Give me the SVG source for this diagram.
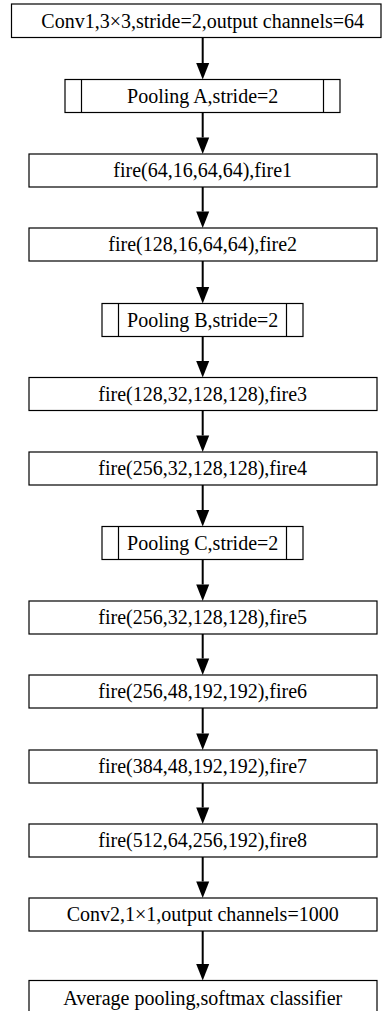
<svg xmlns="http://www.w3.org/2000/svg" width="384" height="1011" viewBox="0 0 384 1011">
<style>
.b{fill:#fff;stroke:#000;stroke-width:1.2}
.d{stroke:#000;stroke-width:1.2}
.t{font-family:"Liberation Serif","Times New Roman",serif;font-size:20px;fill:#000;text-anchor:middle}
.c{stroke:#000;stroke-width:2;fill:none;marker-end:url(#ah)}
</style>
<defs>
<marker id="ah" markerUnits="userSpaceOnUse" markerWidth="16.5" markerHeight="14" refX="0" refY="0" orient="auto" viewBox="0 -7 16.5 14" overflow="visible">
<path d="M0,-6.5 L16.5,0 L0,6.5 Z" fill="#000"/>
</marker>
</defs>
<rect width="384" height="1011" fill="#fff"/>
<g id="connectors">
<line class="c" x1="202.7" y1="37.5" x2="202.7" y2="63"/>
<line class="c" x1="202.7" y1="112.5" x2="202.7" y2="137.5"/>
<line class="c" x1="202.7" y1="187" x2="202.7" y2="211.5"/>
<line class="c" x1="202.7" y1="261" x2="202.7" y2="287"/>
<line class="c" x1="202.7" y1="336.5" x2="202.7" y2="361"/>
<line class="c" x1="202.7" y1="410.5" x2="202.7" y2="435.5"/>
<line class="c" x1="202.7" y1="485" x2="202.7" y2="510"/>
<line class="c" x1="202.7" y1="559.5" x2="202.7" y2="584.5"/>
<line class="c" x1="202.7" y1="634" x2="202.7" y2="658.5"/>
<line class="c" x1="202.7" y1="708" x2="202.7" y2="733.5"/>
<line class="c" x1="202.7" y1="783" x2="202.7" y2="807.5"/>
<line class="c" x1="202.7" y1="857" x2="202.7" y2="881.5"/>
<line class="c" x1="202.7" y1="931" x2="202.7" y2="964"/>
</g>
<g id="conv1"><rect class="b" x="11.5" y="4" width="369.5" height="33.5"/><text class="t" x="202.7" y="28">Conv1,3×3,stride=2,output channels=64</text></g>
<g id="poolA"><rect class="b" x="65" y="79.5" width="275" height="33"/><line class="d" x1="81.5" y1="79.5" x2="81.5" y2="112.5"/><line class="d" x1="323.5" y1="79.5" x2="323.5" y2="112.5"/><text class="t" x="202.7" y="103">Pooling A,stride=2</text></g>
<g id="fire1"><rect class="b" x="29" y="154" width="348" height="33"/><text class="t" x="202.7" y="177">fire(64,16,64,64),fire1</text></g>
<g id="fire2"><rect class="b" x="29" y="228" width="348" height="33"/><text class="t" x="202.7" y="251">fire(128,16,64,64),fire2</text></g>
<g id="poolB"><rect class="b" x="102" y="303.5" width="201" height="33"/><line class="d" x1="118.5" y1="303.5" x2="118.5" y2="336.5"/><line class="d" x1="286.5" y1="303.5" x2="286.5" y2="336.5"/><text class="t" x="202.7" y="327">Pooling B,stride=2</text></g>
<g id="fire3"><rect class="b" x="29" y="377.5" width="348" height="33"/><text class="t" x="202.7" y="401">fire(128,32,128,128),fire3</text></g>
<g id="fire4"><rect class="b" x="29" y="452" width="348" height="33"/><text class="t" x="202.7" y="475">fire(256,32,128,128),fire4</text></g>
<g id="poolC"><rect class="b" x="102" y="526.5" width="201" height="33"/><line class="d" x1="118.5" y1="526.5" x2="118.5" y2="559.5"/><line class="d" x1="286.5" y1="526.5" x2="286.5" y2="559.5"/><text class="t" x="202.7" y="550">Pooling C,stride=2</text></g>
<g id="fire5"><rect class="b" x="29" y="601" width="348" height="33"/><text class="t" x="202.7" y="624">fire(256,32,128,128),fire5</text></g>
<g id="fire6"><rect class="b" x="29" y="675" width="348" height="33"/><text class="t" x="202.7" y="698">fire(256,48,192,192),fire6</text></g>
<g id="fire7"><rect class="b" x="29" y="750" width="348" height="33"/><text class="t" x="202.7" y="773">fire(384,48,192,192),fire7</text></g>
<g id="fire8"><rect class="b" x="29" y="824" width="348" height="33"/><text class="t" x="202.7" y="847">fire(512,64,256,192),fire8</text></g>
<g id="conv2"><rect class="b" x="29" y="898" width="348" height="33"/><text class="t" x="202.7" y="921">Conv2,1×1,output channels=1000</text></g>
<g id="avg"><rect class="b" x="29" y="980.5" width="348" height="40"/><text class="t" x="202.7" y="1005">Average pooling,softmax classifier</text></g>
</svg>
